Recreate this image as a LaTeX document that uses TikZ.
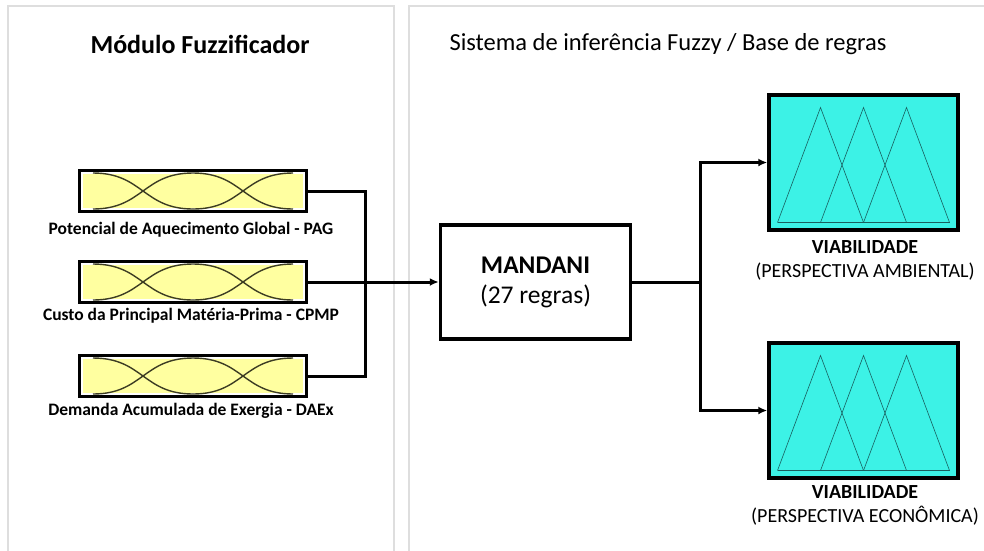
\documentclass[tikz,border=0pt]{standalone}
\usepackage{fontspec}
\setmainfont{Carlito}
\usetikzlibrary{arrows.meta}
\definecolor{fuzzyel}{RGB}{255,255,160}
\definecolor{outcyan}{RGB}{60,242,230}
\definecolor{mfline}{RGB}{60,60,35}
\definecolor{triline}{RGB}{25,95,95}
\definecolor{panelgray}{RGB}{222,222,222}
\begin{document}
\begin{tikzpicture}[
  x=1pt, y=-1pt,
  panel/.style={draw=panelgray, line width=1.5pt},
  title/.style={font=\fontsize{24.5}{28}\selectfont},
  varlabel/.style={font=\fontsize{17.5}{20}\selectfont\bfseries},
  outlabel/.style={font=\fontsize{20}{24}\selectfont, align=center},
  wire/.style={line width=3pt},
  invar/.style={draw, line width=3.5pt, fill=white, minimum width=227pt, minimum height=41pt, inner sep=0pt,
    path picture={
      \fill[fuzzyel] ([shift={(3.5,3.5)}]path picture bounding box.north west) rectangle ([shift={(-3.5,-3.5)}]path picture bounding box.south east);
      \draw[mfline, line width=1.4pt] ([shift={(-100,-18)}]path picture bounding box.center) .. controls +(50,0) and +(-50,0) .. ([shift={(0,18)}]path picture bounding box.center);
      \draw[mfline, line width=1.4pt] ([shift={(-100,18)}]path picture bounding box.center) .. controls +(50,0) and +(-50,0) .. ([shift={(0,-18)}]path picture bounding box.center)
        .. controls +(50,0) and +(-50,0) .. ([shift={(100,18)}]path picture bounding box.center);
      \draw[mfline, line width=1.4pt] ([shift={(0,18)}]path picture bounding box.center) .. controls +(50,0) and +(-50,0) .. ([shift={(100,-18)}]path picture bounding box.center);
    }},
  outvar/.style={draw, line width=3.5pt, fill=outcyan, minimum width=189pt, minimum height=135pt, inner sep=0pt,
    path picture={
      \draw[triline, line width=0.6pt] ([shift={(-86,60)}]path picture bounding box.center) -- ([shift={(86,60)}]path picture bounding box.center);
      \foreach \p in {-43,0,43}
        \draw[triline, line width=0.6pt] ([shift={({\p-43},60)}]path picture bounding box.center) -- ([shift={(\p,-55)}]path picture bounding box.center) -- ([shift={({\p+43},60)}]path picture bounding box.center);
    }},
  >={Latex[length=9pt,width=8pt]}
]
\clip (0,0) rectangle (984,550);
\fill[white] (0,0) rectangle (984,550);
\draw[panel] (8,6) rectangle (394,580);
\draw[panel] (409,6) rectangle (1000,580);

\node[title] (t1) at (200,44) {\fontsize{26}{28}\selectfont\textbf{Módulo Fuzzificador}};
\node[title] (t2) at (668,44) {Sistema de inferência Fuzzy / Base de regras};

\node[invar] (pag)  at (193,191) {};
\node[invar] (cpmp) at (193,282) {};
\node[invar] (daex) at (193,376) {};
\node[varlabel] (pagl)  at (191,230) {Potencial de Aquecimento Global - PAG};
\node[varlabel] (cpmpl) at (191,316) {Custo da Principal Matéria-Prima - CPMP};
\node[varlabel] (daexl) at (191,411) {Demanda Acumulada de Exergia - DAEx};

\node[draw, line width=3.5pt, fill=white, minimum width=190pt, minimum height=114pt, align=center,
  font=\fontsize{25.5}{30}\selectfont] (mandani) at (535.5,282) {\textbf{MANDANI}\\(27 regras)};

\node[outvar] (amb) at (863.5,162.5) {};
\node[outvar] (eco) at (863.5,410.5) {};
\node[outlabel] (ambl) at (865,260) {\textbf{VIABILIDADE}\\(PERSPECTIVA AMBIENTAL)};
\node[outlabel] (ecol) at (865,505) {\textbf{VIABILIDADE}\\(PERSPECTIVA ECONÔMICA)};

\coordinate (bus) at (365,191);
\coordinate (fork) at (700,282);
\draw[wire] (pag.east) -- (bus) |- (daex.east);
\draw[wire, ->] (cpmp.east) -- (mandani.west);
\draw[wire] (mandani.east) -- (fork);
\draw[wire, ->] (fork) |- (amb.west);
\draw[wire, ->] (fork) |- (eco.west);
\end{tikzpicture}
\end{document}
